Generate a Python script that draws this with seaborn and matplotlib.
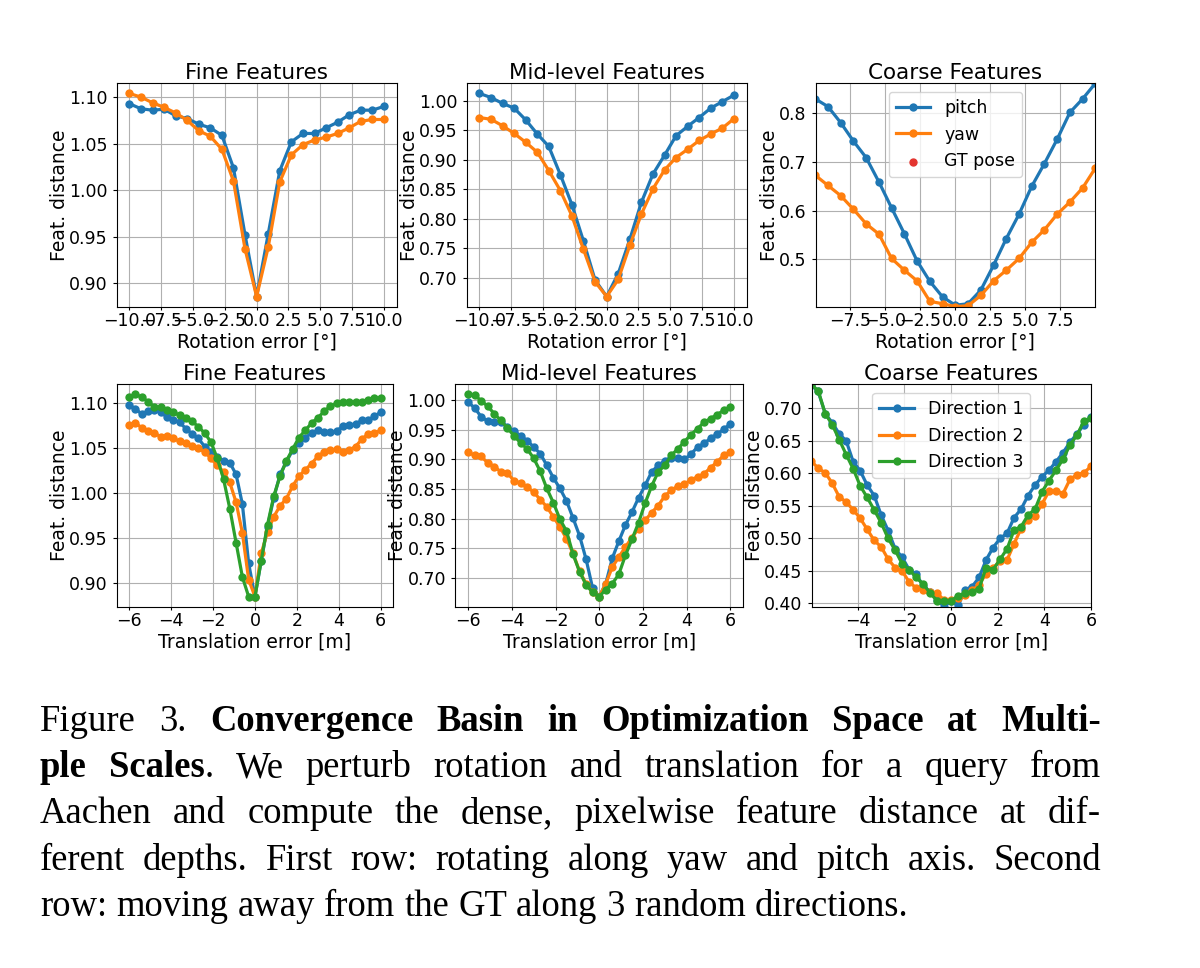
import numpy as np
import seaborn as sns
import matplotlib.pyplot as plt
from matplotlib.ticker import MultipleLocator

# x samples
rot_x = [-10.0, -9.09, -8.18, -7.27, -6.36, -5.45, -4.55, -3.64, -2.73, -1.82, -0.91, 0.0,
         0.91, 1.82, 2.73, 3.64, 4.55, 5.45, 6.36, 7.27, 8.18, 9.09, 10.0]
trans_x = [-6.0, -5.7, -5.4, -5.1, -4.8, -4.5, -4.2, -3.9, -3.6, -3.3, -3.0, -2.7, -2.4, -2.1,
           -1.8, -1.5, -1.2, -0.9, -0.6, -0.3, 0.0, 0.3, 0.6, 0.9, 1.2, 1.5, 1.8, 2.1, 2.4,
           2.7, 3.0, 3.3, 3.6, 3.9, 4.2, 4.5, 4.8, 5.1, 5.4, 5.7, 6.0]

# first row: rotation (pitch / yaw)
rot_fine_pitch = [1.093, 1.0875, 1.086, 1.087, 1.080, 1.077, 1.071, 1.067, 1.059, 1.024, 0.952, 0.886,
                  0.953, 1.021, 1.052, 1.061, 1.061, 1.067, 1.073, 1.081, 1.086, 1.086, 1.090]
rot_fine_yaw = [1.104, 1.100, 1.094, 1.089, 1.083, 1.075, 1.064, 1.058, 1.044, 1.010, 0.937, 0.886,
                0.939, 1.009, 1.038, 1.049, 1.054, 1.057, 1.061, 1.067, 1.074, 1.076, 1.076]
rot_mid_pitch = [1.013, 1.006, 0.996, 0.988, 0.968, 0.944, 0.923, 0.875, 0.824, 0.762, 0.696, 0.668,
                 0.707, 0.765, 0.828, 0.876, 0.908, 0.941, 0.957, 0.972, 0.988, 0.999, 1.010]
rot_mid_yaw = [0.972, 0.969, 0.958, 0.945, 0.930, 0.913, 0.882, 0.848, 0.805, 0.748, 0.693, 0.668,
               0.697, 0.755, 0.808, 0.851, 0.883, 0.904, 0.918, 0.933, 0.944, 0.954, 0.970]
rot_coarse_pitch = [0.830, 0.814, 0.781, 0.743, 0.709, 0.659, 0.606, 0.553, 0.497, 0.455, 0.423, 0.406,
                    0.409, 0.437, 0.488, 0.543, 0.593, 0.650, 0.697, 0.747, 0.802, 0.830, 0.862]
rot_coarse_yaw = [0.673, 0.652, 0.631, 0.603, 0.573, 0.552, 0.502, 0.478, 0.456, 0.414, 0.409, 0.403,
                  0.405, 0.426, 0.456, 0.478, 0.502, 0.535, 0.561, 0.593, 0.618, 0.647, 0.688]

# second row: translation along 3 directions
tr_fine_d1 = [1.098, 1.094, 1.088, 1.091, 1.093, 1.090, 1.085, 1.082, 1.079, 1.072, 1.066, 1.061, 1.052,
              1.046, 1.040, 1.036, 1.034, 1.021, 0.988, 0.922, 0.885,
              0.925, 0.963, 0.995, 1.021, 1.035, 1.048, 1.056, 1.062, 1.067, 1.070, 1.068, 1.068,
              1.069, 1.075, 1.076, 1.077, 1.081, 1.081, 1.086, 1.090]
tr_fine_d2 = [1.076, 1.078, 1.073, 1.069, 1.067, 1.063, 1.064, 1.061, 1.058, 1.056, 1.053, 1.050, 1.046,
              1.039, 1.031, 1.024, 1.012, 0.990, 0.956, 0.904, 0.885,
              0.933, 0.957, 0.974, 0.986, 0.994, 1.008, 1.019, 1.026, 1.033, 1.041, 1.046, 1.048,
              1.049, 1.046, 1.048, 1.052, 1.060, 1.066, 1.067, 1.070]
tr_fine_d3 = [1.107, 1.110, 1.107, 1.102, 1.096, 1.096, 1.093, 1.090, 1.087, 1.084, 1.080, 1.074, 1.067,
              1.057, 1.039, 1.016, 0.983, 0.945, 0.907, 0.885, 0.885,
              0.925, 0.965, 0.997, 1.019, 1.036, 1.049, 1.062, 1.070, 1.078, 1.084, 1.091, 1.097,
              1.100, 1.101, 1.101, 1.101, 1.101, 1.104, 1.106, 1.106]
tr_mid_d1 = [0.997, 0.987, 0.972, 0.965, 0.963, 0.963, 0.955, 0.948, 0.940, 0.932, 0.921, 0.910, 0.890,
             0.869, 0.851, 0.830, 0.801, 0.771, 0.731, 0.682, 0.668,
             0.690, 0.733, 0.762, 0.789, 0.811, 0.835, 0.856, 0.879, 0.890, 0.898, 0.903, 0.902,
             0.900, 0.909, 0.921, 0.927, 0.936, 0.943, 0.951, 0.960]
tr_mid_d2 = [0.912, 0.907, 0.905, 0.894, 0.888, 0.879, 0.877, 0.864, 0.860, 0.853, 0.845, 0.832, 0.820,
             0.803, 0.786, 0.766, 0.741, 0.711, 0.690, 0.675, 0.668,
             0.690, 0.718, 0.735, 0.752, 0.768, 0.783, 0.797, 0.810, 0.822, 0.838, 0.848, 0.855,
             0.858, 0.866, 0.870, 0.876, 0.886, 0.896, 0.907, 0.912]
tr_mid_d3 = [1.010, 1.009, 0.999, 0.990, 0.977, 0.966, 0.953, 0.940, 0.928, 0.918, 0.902, 0.880, 0.851,
             0.827, 0.799, 0.779, 0.740, 0.710, 0.688, 0.675, 0.668,
             0.680, 0.690, 0.706, 0.738, 0.765, 0.793, 0.826, 0.855, 0.879, 0.890, 0.907, 0.918,
             0.930, 0.942, 0.952, 0.963, 0.969, 0.976, 0.983, 0.988]
tr_coarse_d1 = [0.736, 0.726, 0.692, 0.678, 0.661, 0.650, 0.618, 0.604, 0.582, 0.566, 0.536, 0.512, 0.484,
                0.471, 0.452, 0.445, 0.427, 0.418, 0.405, 0.395, 0.404,
                0.397, 0.421, 0.426, 0.440, 0.467, 0.486, 0.500, 0.508, 0.532, 0.545, 0.566, 0.582,
                0.595, 0.605, 0.618, 0.632, 0.648, 0.661, 0.675, 0.686]
tr_coarse_d2 = [0.619, 0.608, 0.601, 0.585, 0.564, 0.556, 0.544, 0.531, 0.514, 0.497, 0.487, 0.468, 0.455,
                0.450, 0.433, 0.424, 0.420, 0.417, 0.416, 0.405, 0.405,
                0.408, 0.413, 0.420, 0.429, 0.446, 0.454, 0.466, 0.467, 0.492, 0.515, 0.529, 0.535,
                0.553, 0.573, 0.573, 0.569, 0.591, 0.598, 0.601, 0.611]
tr_coarse_d3 = [0.737, 0.727, 0.692, 0.675, 0.652, 0.629, 0.607, 0.581, 0.563, 0.544, 0.524, 0.500, 0.482,
                0.461, 0.452, 0.440, 0.430, 0.416, 0.404, 0.404, 0.404,
                0.412, 0.416, 0.418, 0.423, 0.455, 0.452, 0.468, 0.484, 0.513, 0.518, 0.536, 0.545,
                0.572, 0.589, 0.605, 0.622, 0.644, 0.659, 0.681, 0.685]

titles = ["Fine Features", "Mid-level Features", "Coarse Features"]
rot_labels = ["pitch", "yaw"]
dir_labels = ["Direction 1", "Direction 2", "Direction 3"]
colors = ["#1f77b4", "#ff7f0e", "#2ca02c"]

caption = [
    [("Figure 3.  ", "normal"), ("Convergence Basin in Optimization Space at Multi-", "bold")],
    [("ple Scales", "bold"), (".  We perturb rotation and translation for a query from", "normal")],
    [("Aachen and compute the dense, pixelwise feature distance at dif-", "normal")],
    [("ferent depths. First row: rotating along yaw and pitch axis. Second", "normal")],
    [("row: moving away from the GT along 3 random directions.", "normal")],
]

plt.rcParams.update({
    "font.family": "DejaVu Sans",
    "xtick.labelsize": 12.5,
    "ytick.labelsize": 12.5,
    "axes.labelsize": 13.5,
    "axes.titlesize": 15.5,
    "legend.fontsize": 12.5,
    "xtick.major.size": 2.5,
    "xtick.major.pad": 1.0,
    "ytick.major.size": 3.0,
    "axes.titlepad": 3.0,
})

fig = plt.figure(figsize=(12, 9.68), dpi=100)

# axes positions [left, bottom, width, height] in figure fraction
pos_top = [[0.0972, 0.6832, 0.2333, 0.2308],
           [0.3889, 0.6832, 0.2333, 0.2308],
           [0.6797, 0.6832, 0.2328, 0.2308]]
pos_bot = [[0.0972, 0.3732, 0.2305, 0.2298],
           [0.3792, 0.3732, 0.2403, 0.2298],
           [0.6764, 0.3732, 0.2328, 0.2298]]
top_ystep = [0.05, 0.05, 0.1]
bot_ystep = [0.05, 0.05, 0.05]


def draw(ax, xs, series, labels, title, xlabel, xstep, ystep):
    for ys, lab, c in zip(series, labels, colors):
        sns.lineplot(x=xs, y=ys, ax=ax, color=c, marker="o", markersize=6, linewidth=2.3,
                     markeredgewidth=0, label=lab, legend=False, estimator=None, sort=False,
                     errorbar=None)
    ax.set_title(title)
    ax.set_xlabel(xlabel, labelpad=2)
    ax.set_ylabel("Feat. distance", labelpad=0)
    ax.xaxis.set_major_locator(MultipleLocator(xstep))
    ax.yaxis.set_major_locator(MultipleLocator(ystep))
    ax.grid(True, color="#b0b0b0", linewidth=0.8)


top_data = [[rot_fine_pitch, rot_fine_yaw], [rot_mid_pitch, rot_mid_yaw],
            [rot_coarse_pitch, rot_coarse_yaw]]
bot_data = [[tr_fine_d1, tr_fine_d2, tr_fine_d3], [tr_mid_d1, tr_mid_d2, tr_mid_d3],
            [tr_coarse_d1, tr_coarse_d2, tr_coarse_d3]]

for i in range(3):
    ax = fig.add_axes(pos_top[i])
    draw(ax, rot_x, top_data[i], rot_labels, titles[i], "Rotation error [°]", 2.5, top_ystep[i])
    if i == 2:
        ax.scatter([], [], color="#e3342f", s=25, label="GT pose")
        ax.set_xlim(-9.97, 9.97)
        ax.set_ylim(min(rot_coarse_yaw), max(rot_coarse_pitch))
        ax.legend(loc="upper center")

for i in range(3):
    ax = fig.add_axes(pos_bot[i])
    draw(ax, trans_x, bot_data[i], dir_labels, titles[i], "Translation error [m]", 2, bot_ystep[i])
    if i == 2:
        ax.set_xlim(-5.98, 6.0)
        ax.set_ylim(min(tr_coarse_d1), max(tr_coarse_d3))
        ax.legend(loc="upper center")

# justified caption below the plots
cap_fs = 26.4
serif = "Liberation Serif"
left_px, right_px = 40, 1101
base_px = [731, 777, 823, 870, 916]

fig.canvas.draw()
rend = fig.canvas.get_renderer()


def text_w(s, weight):
    t = fig.text(0, 0, s, fontsize=cap_fs, family=serif, weight=weight)
    w = t.get_window_extent(rend).width
    t.remove()
    return w


space_w = text_w("a a", "normal") - text_w("aa", "normal")

for li, segs in enumerate(caption):
    words = []
    glue = False
    for text, weight in segs:
        parts = text.split(" ")
        for j, p in enumerate(parts):
            if p == "":
                glue = False
                continue
            if j == 0 and glue and words:
                words[-1].append((p, weight))
            else:
                words.append([(p, weight)])
            glue = True
    widths = [sum(text_w(p, w) for p, w in word) for word in words]
    if li < len(caption) - 1:
        gap = (right_px - left_px - sum(widths)) / (len(words) - 1)
    else:
        gap = space_w
    x = left_px
    y = 1 - base_px[li] / 968
    for word, ww in zip(words, widths):
        xx = x
        for p, w in word:
            fig.text(xx / 1200, y, p, fontsize=cap_fs, family=serif, weight=w,
                     va="baseline", ha="left")
            xx += text_w(p, w)
        x += ww + gap

fig.savefig("out.png", dpi=100)
